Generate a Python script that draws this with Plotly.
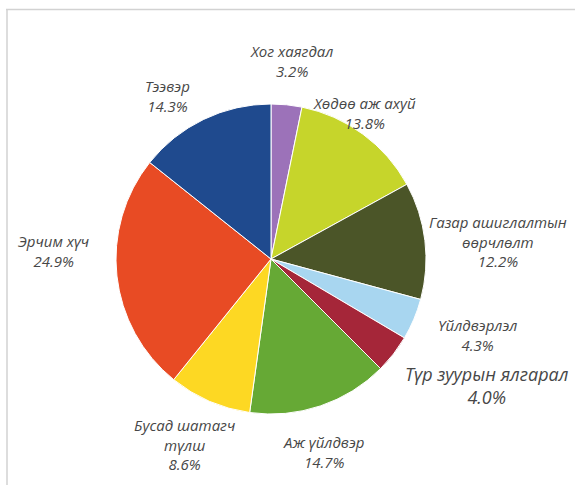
import plotly.graph_objects as go

labels = ["Хог хаягдал", "Хөдөө аж ахуй", "Газар ашиглалтын өөрчлөлт", "Үйлдвэрлэл",
          "Түр зуурын ялгарал", "Аж үйлдвэр", "Бусад шатагч түлш", "Эрчим хүч", "Тээвэр"]
values = [3.2, 13.8, 12.2, 4.3, 4.0, 14.7, 8.6, 24.9, 14.3]
colors = ["#9c72b9", "#c6d52b", "#4b5528", "#a8d6f0", "#a52639", "#66a935", "#fdd823", "#e84b24", "#1f4a8e"]
label_lines = [["Хог хаягдал"], ["Хөдөө аж ахуй"], ["Газар ашиглалтын", "өөрчлөлт"], ["Үйлдвэрлэл"],
               ["Түр зуурын ялгарал"], ["Аж үйлдвэр"], ["Бусад шатагч", "түлш"], ["Эрчим хүч"], ["Тээвэр"]]

W, H = 575, 485
cx, cy, r = 271, 259, 155

fig = go.Figure(go.Pie(
    labels=labels, values=values, sort=False, direction="clockwise", rotation=0,
    marker=dict(colors=colors, line=dict(color="white", width=1)),
    textinfo="none", hoverinfo="skip", showlegend=False,
    domain=dict(x=[(cx - r) / W, (cx + r) / W], y=[1 - (cy + r) / H, 1 - (cy - r) / H]),
))

# label centers (pixel positions of the first line) and font sizes
label_pos = [(291, 49), (364, 101), (498, 220), (477, 323), (487, 372), (323, 440), (185, 423), (54, 239), (167, 84)]
label_size = [15, 15, 15, 15, 18, 15, 15, 15, 15]

for lines, v, (px, py), fs in zip(label_lines, values, label_pos, label_size):
    txt = "<br>".join(lines + [f"{v:.1f}%"])
    fig.add_annotation(
        text=txt, x=px / W, y=1 - py / H, xref="paper", yref="paper",
        xanchor="center", yanchor="top", yshift=fs * 0.65, showarrow=False, align="center",
        font=dict(family="Open Sans", size=fs, color="#474747", style="italic"),
    )

fig.add_shape(type="line", xref="paper", yref="paper", x0=6 / W, x1=1, y0=1 - 9.5 / H, y1=1 - 9.5 / H,
              line=dict(color="#d2d2d2", width=1.5))
fig.add_shape(type="line", xref="paper", yref="paper", x0=7 / W, x1=7 / W, y0=1 - 9.5 / H, y1=0,
              line=dict(color="#d2d2d2", width=1.5))

fig.update_layout(width=W, height=H, margin=dict(l=0, r=0, t=0, b=0),
                  paper_bgcolor="white", plot_bgcolor="white")
fig.write_html("out.html", config={"displayModeBar": False},
               post_script="document.body.style.margin='0';document.body.style.overflow='hidden';")
